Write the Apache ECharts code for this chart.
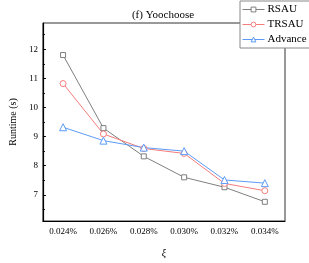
<!DOCTYPE html>
<html><head><meta charset="utf-8">
<script src="https://cdn.jsdelivr.net/npm/echarts@6/dist/echarts.min.js"></script>
<style>html,body{margin:0;padding:0;background:#fff}#c{width:309px;height:263px}</style>
</head><body><div id="c"></div>
<script>
const categories = ['0.024%','0.026%','0.028%','0.030%','0.032%','0.034%'];
const rsau = [11.80, 9.29, 8.32, 7.60, 7.26, 6.76];
const trsau = [10.82, 9.09, 8.59, 8.42, 7.39, 7.14];
const advance = [9.32, 8.86, 8.62, 8.50, 7.51, 7.40];
const yMajor = [7, 8, 9, 10, 11, 12];
const yMinor = [6.5, 7.5, 8.5, 9.5, 10.5, 11.5, 12.5];
const F = 'Liberation Serif, Times New Roman, serif';
const chart = echarts.init(document.getElementById('c'));
function ser(name, data, color, symbol, size) {
  return {
    name, type: 'line', data, symbol, symbolSize: size,
    lineStyle: {color, width: 1},
    itemStyle: {color: '#fff', borderColor: color, borderWidth: 1},
    emphasis: {disabled: true}, z: 3
  };
}
chart.setOption({
  animation: false,
  title: {text: '(f) Yoochoose', left: 158, top: 5, textAlign: 'center',
    textStyle: {fontFamily: F, fontSize: 11, fontWeight: 'normal', color: '#000'}},
  legend: {
    orient: 'vertical', left: 240, top: 1, width: 67,
    padding: [3, 4, 3, 2], itemGap: 4, itemWidth: 22, itemHeight: 6,
    backgroundColor: '#fff', borderColor: '#888', borderWidth: 1, z: 10,
    lineStyle: {width: 1}, itemStyle: {borderWidth: 1},
    textStyle: {fontFamily: F, fontSize: 11, color: '#000', padding: [0, 0, 0, -2]},
    data: ['RSAU', 'TRSAU', 'Advance']
  },
  grid: {left: 30, right: 24, top: 23, bottom: 34, show: true, borderColor: '#333', borderWidth: 1, backgroundColor: 'transparent'},
  xAxis: [{
    type: 'category', data: categories, boundaryGap: true,
    name: 'ξ', nameLocation: 'middle', nameGap: 27,
    nameTextStyle: {fontFamily: F, fontSize: 10, fontStyle: 'italic', color: '#000'},
    axisLine: {lineStyle: {color: '#000', width: 1.2}},
    axisTick: {inside: true, alignWithLabel: true, length: 3, lineStyle: {color: '#000'}},
    axisLabel: {fontFamily: F, fontSize: 9, color: '#000', margin: 6},
    splitLine: {show: false}
  }, {
    type: 'category', data: categories, boundaryGap: true, position: 'bottom',
    axisLine: {show: false},
    axisTick: {inside: true, length: 2, lineStyle: {color: '#000'}},
    axisLabel: {show: false}, splitLine: {show: false}
  }],
  yAxis: [{
    type: 'value', min: 6.1, max: 12.9,
    name: 'Runtime (s)', nameLocation: 'middle', nameGap: 24,
    nameTextStyle: {fontFamily: F, fontSize: 10, color: '#000'},
    axisLine: {show: true, lineStyle: {color: '#000', width: 1.2}},
    axisTick: {show: true, inside: true, length: 3, customValues: yMajor, lineStyle: {color: '#000'}},
    axisLabel: {fontFamily: F, fontSize: 9, color: '#000', margin: 5, customValues: yMajor},
    splitLine: {show: false}
  }, {
    type: 'value', min: 6.1, max: 12.9, position: 'left',
    axisLine: {show: false},
    axisTick: {show: true, inside: true, length: 2, customValues: yMinor, lineStyle: {color: '#000'}},
    axisLabel: {show: false}, splitLine: {show: false}
  }],
  series: [
    ser('RSAU', rsau, '#7f7f7f', 'rect', 5),
    ser('TRSAU', trsau, '#f47c7c', 'circle', 6),
    ser('Advance', advance, '#5b9bf5', 'triangle', 7)
  ]
});
</script></body></html>
